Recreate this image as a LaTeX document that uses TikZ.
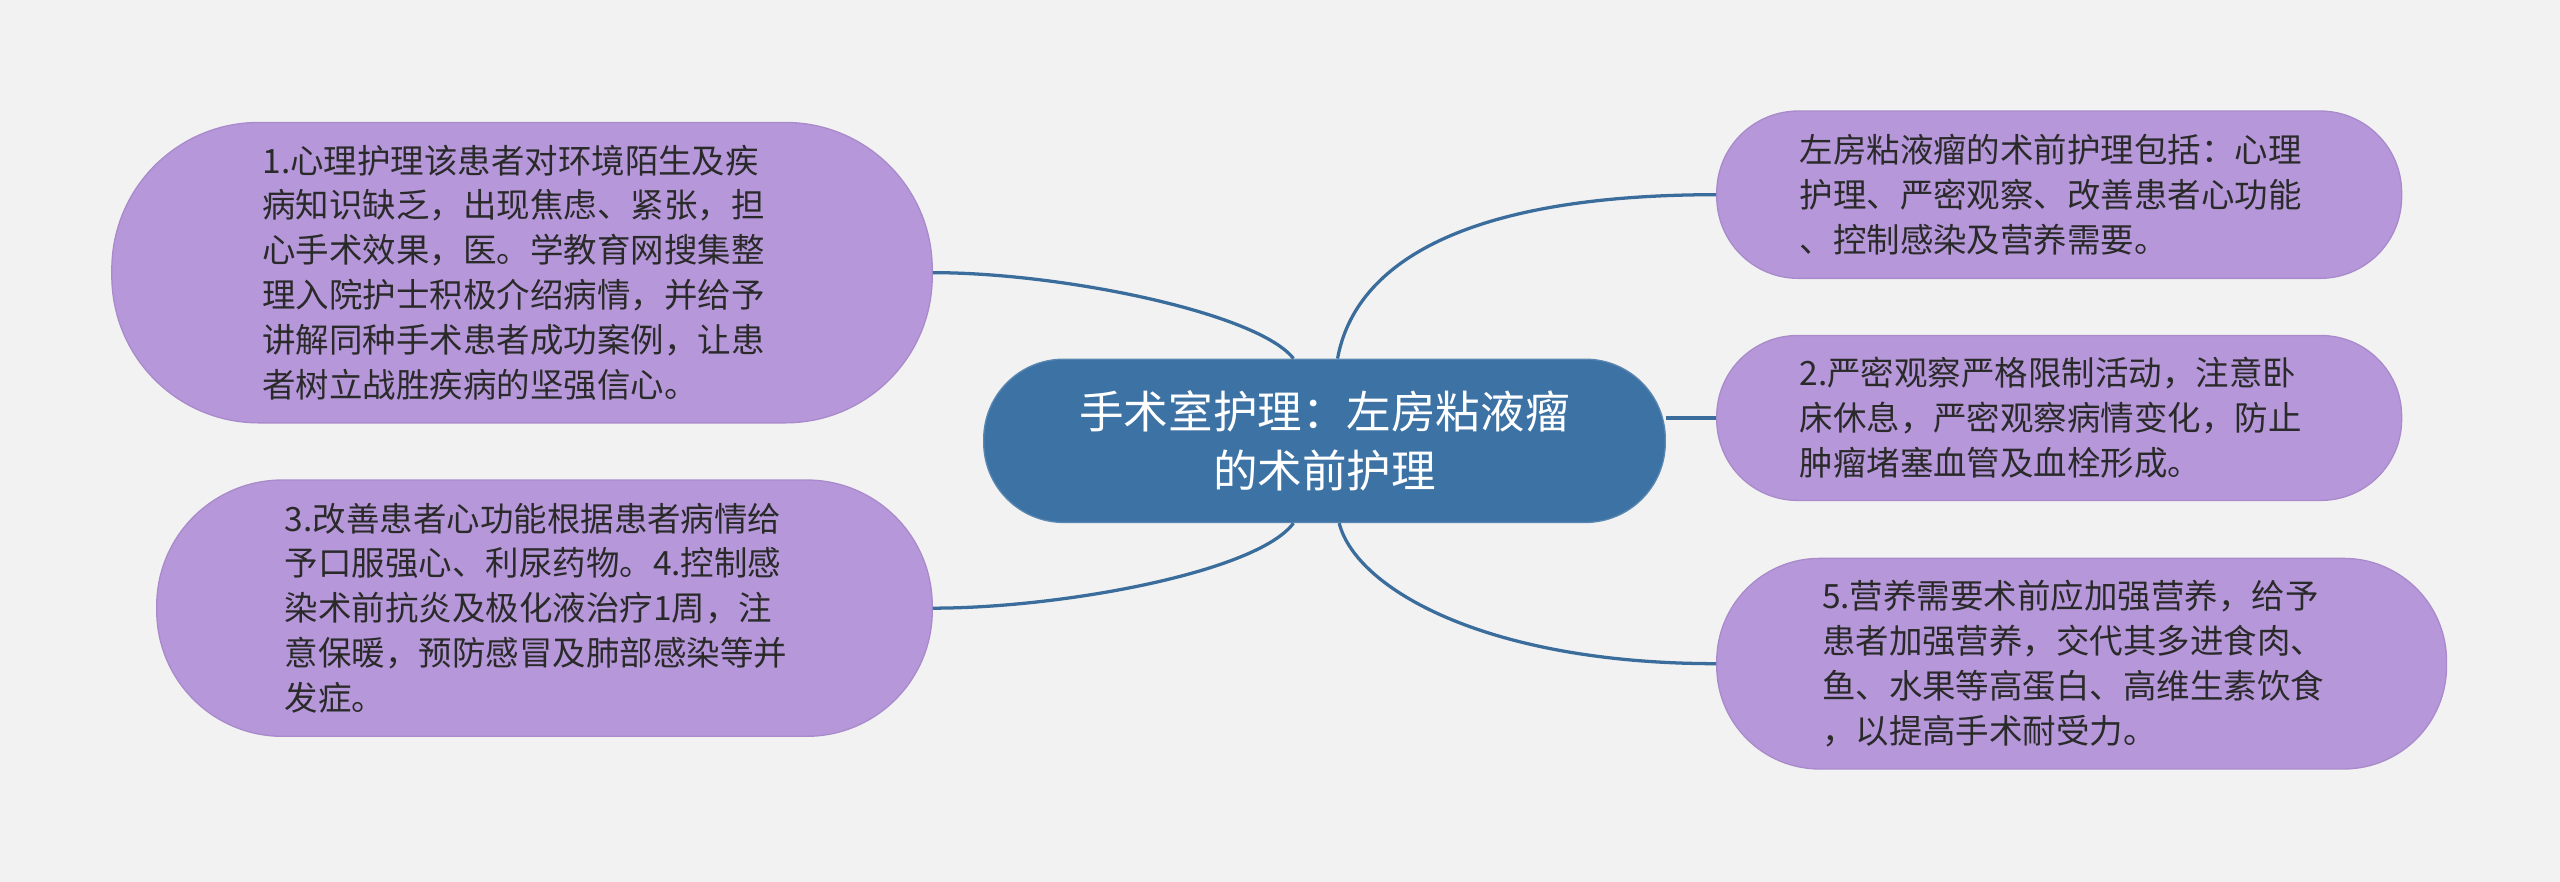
\documentclass[tikz,border=0pt]{standalone}
\usepackage{fontspec}
\newfontfamily\cjk{Noto Sans CJK SC}
\definecolor{bgcol}{HTML}{F2F2F2}
\definecolor{hubcol}{HTML}{3D72A4}
\definecolor{linkcol}{HTML}{3A6C9C}
\definecolor{leafcol}{HTML}{B698DA}
\definecolor{leafedge}{HTML}{A98BCC}
\definecolor{leaftext}{HTML}{2A2A2A}

\begin{document}
\begin{tikzpicture}[x=1pt,y=-1pt,
    hub/.style={fill=hubcol,draw=hubcol!85!white,line width=0.8pt,text=white,align=center,inner sep=0pt,font=\cjk\fontsize{27.3}{36}\selectfont},
    leaf/.style={fill=leafcol,draw=leafedge,line width=0.8pt,text=leaftext,text width=318pt,align=left,inner sep=0pt,font=\cjk\fontsize{20.5}{27.5}\selectfont},
    link/.style={draw=linkcol,line width=2pt}]
    \path[fill=bgcol,use as bounding box] (0,0) rectangle (1568,540);
    \node[hub,minimum width=417.5pt,minimum height=100pt,rounded corners=49pt] (hub) at (811.25,270) {手术室护理：左房粘液瘤\\的术前护理};
    \node[leaf,minimum width=502.5pt,minimum height=184pt,rounded corners=90pt] (care) at (319.75,167) {1.心理护理该患者对环境陌生及疾\\病知识缺乏，出现焦虑、紧张，担\\心手术效果，医。学教育网搜集整\\理入院护士积极介绍病情，并给予\\讲解同种手术患者成功案例，让患\\者树立战胜疾病的坚强信心。};
    \node[leaf,minimum width=475pt,minimum height=157pt,rounded corners=77pt] (heart) at (333.5,372.5) {3.改善患者心功能根据患者病情给\\予口服强心、利尿药物。4.控制感\\染术前抗炎及极化液治疗1周，注\\意保暖，预防感冒及肺部感染等并\\发症。};
    \node[leaf,minimum width=419.5pt,minimum height=102.5pt,rounded corners=50pt] (summary) at (1261.25,119.25) {左房粘液瘤的术前护理包括：心理\\护理、严密观察、改善患者心功能\\、控制感染及营养需要。};
    \node[leaf,minimum width=419.5pt,minimum height=101pt,rounded corners=49.5pt] (watch) at (1261.25,256) {2.严密观察严格限制活动，注意卧\\床休息，严密观察病情变化，防止\\肿瘤堵塞血管及血栓形成。};
    \node[leaf,minimum width=447pt,minimum height=129pt,rounded corners=63pt] (food) at (1275,406.5) {5.营养需要术前应加强营养，给予\\患者加强营养，交代其多进食肉、\\鱼、水果等高蛋白、高维生素饮食\\，以提高手术耐受力。};
    \draw[link] ([xshift=-19pt]hub.north) .. controls +(-22,-28) and +(79,0) .. (care.east);
    \draw[link] ([xshift=-19pt]hub.south) .. controls +(-22,30) and +(79,0) .. (heart.east);
    \draw[link] ([xshift=8pt]hub.north) .. controls +(11,-60) and +(-151,0) .. (summary.west);
    \draw[link] ([yshift=14pt]hub.east) -- (watch.west);
    \draw[link] ([xshift=9pt]hub.south) .. controls +(10,40) and +(-141,0) .. (food.west);
\end{tikzpicture}
\end{document}
